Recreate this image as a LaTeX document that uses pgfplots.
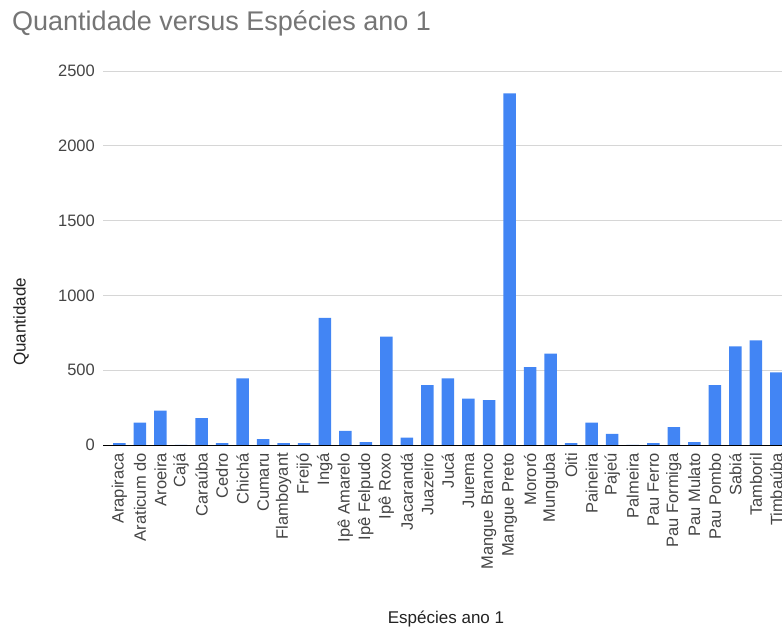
\documentclass[border=0pt]{standalone}
\usepackage{pgfplots}
\pgfplotsset{compat=1.18}
\usepackage{fontspec}
\setmainfont{Liberation Sans}

\definecolor{barblue}{HTML}{4285F4}
\definecolor{titlegray}{HTML}{757575}
\definecolor{ticktext}{HTML}{444444}
\definecolor{labeltext}{HTML}{222222}
\definecolor{gridgray}{HTML}{D6D6D6}
\definecolor{baseline}{HTML}{333333}

\begin{document}
\begin{tikzpicture}[x=1pt,y=1pt]
\path[use as bounding box] (0,0) rectangle (782,629);

% chart title
\node[anchor=base west, inner sep=0pt, text=titlegray, font=\fontsize{27}{30}\selectfont]
  at (12,598) {Quantidade versus Espécies ano 1};

\begin{axis}[
  at={(103pt,184pt)}, anchor=south west,
  scale only axis, width=679pt, height=374pt,
  xmin=-0.8, xmax=32.27, ymin=0, ymax=2500,
  clip=false,
  axis line style={draw=none},
  major tick length=0pt,
  ytick={0,500,1000,1500,2000,2500},
  ymajorgrids, grid style={gridgray, line width=0.9pt},
  xtick={0,...,32},
  xticklabels={Arapiraca,Araticum do,Aroeira,Cajá,Caraúba,Cedro,Chichá,Cumaru,Flamboyant,Freijó,Ingá,Ipê Amarelo,Ipê Felpudo,Ipê Roxo,Jacarandá,Juazeiro,Jucá,Jurema,Mangue Branco,Mangue Preto,Mororó,Munguba,Oiti,Paineira,Pajeú,Palmeira,Pau Ferro,Pau Formiga,Pau Mulato,Pau Pombo,Sabiá,Tamboril,Timbaúba},
  x tick label style={rotate=90, anchor=east, inner sep=0pt, text=ticktext,
    font=\fontsize{16.5}{18}\selectfont},
  y tick label style={anchor=east, inner sep=0pt, text=ticktext,
    font=\fontsize{16.5}{18}\selectfont},
  xticklabel shift=8pt, yticklabel shift=8pt,
  /pgf/number format/assume math mode=true,
  /pgf/number format/1000 sep={},
  ybar, bar width=12.5pt, bar shift=0pt,
]
\addplot[fill=barblue, draw=none] coordinates {
  (0,12) (1,150) (2,230) (3,0) (4,180) (5,12) (6,445) (7,40) (8,12) (9,12)
  (10,850) (11,95) (12,20) (13,725) (14,50) (15,400) (16,445) (17,310)
  (18,300) (19,2350) (20,520) (21,610) (22,12) (23,150) (24,75) (25,0)
  (26,12) (27,120) (28,20) (29,400) (30,660) (31,700) (32,485)
};
\draw[baseline, line width=0.9pt] (axis cs:-0.8,0) -- (axis cs:32.27,0);
\end{axis}

% axis titles
\node[anchor=base, inner sep=0pt, text=labeltext, font=\fontsize{17}{19}\selectfont]
  at (446,5) {Espécies ano 1};
\node[rotate=90, anchor=center, inner sep=0pt, text=labeltext, font=\fontsize{17}{19}\selectfont]
  at (21,307) {Quantidade};
\end{tikzpicture}
\end{document}
